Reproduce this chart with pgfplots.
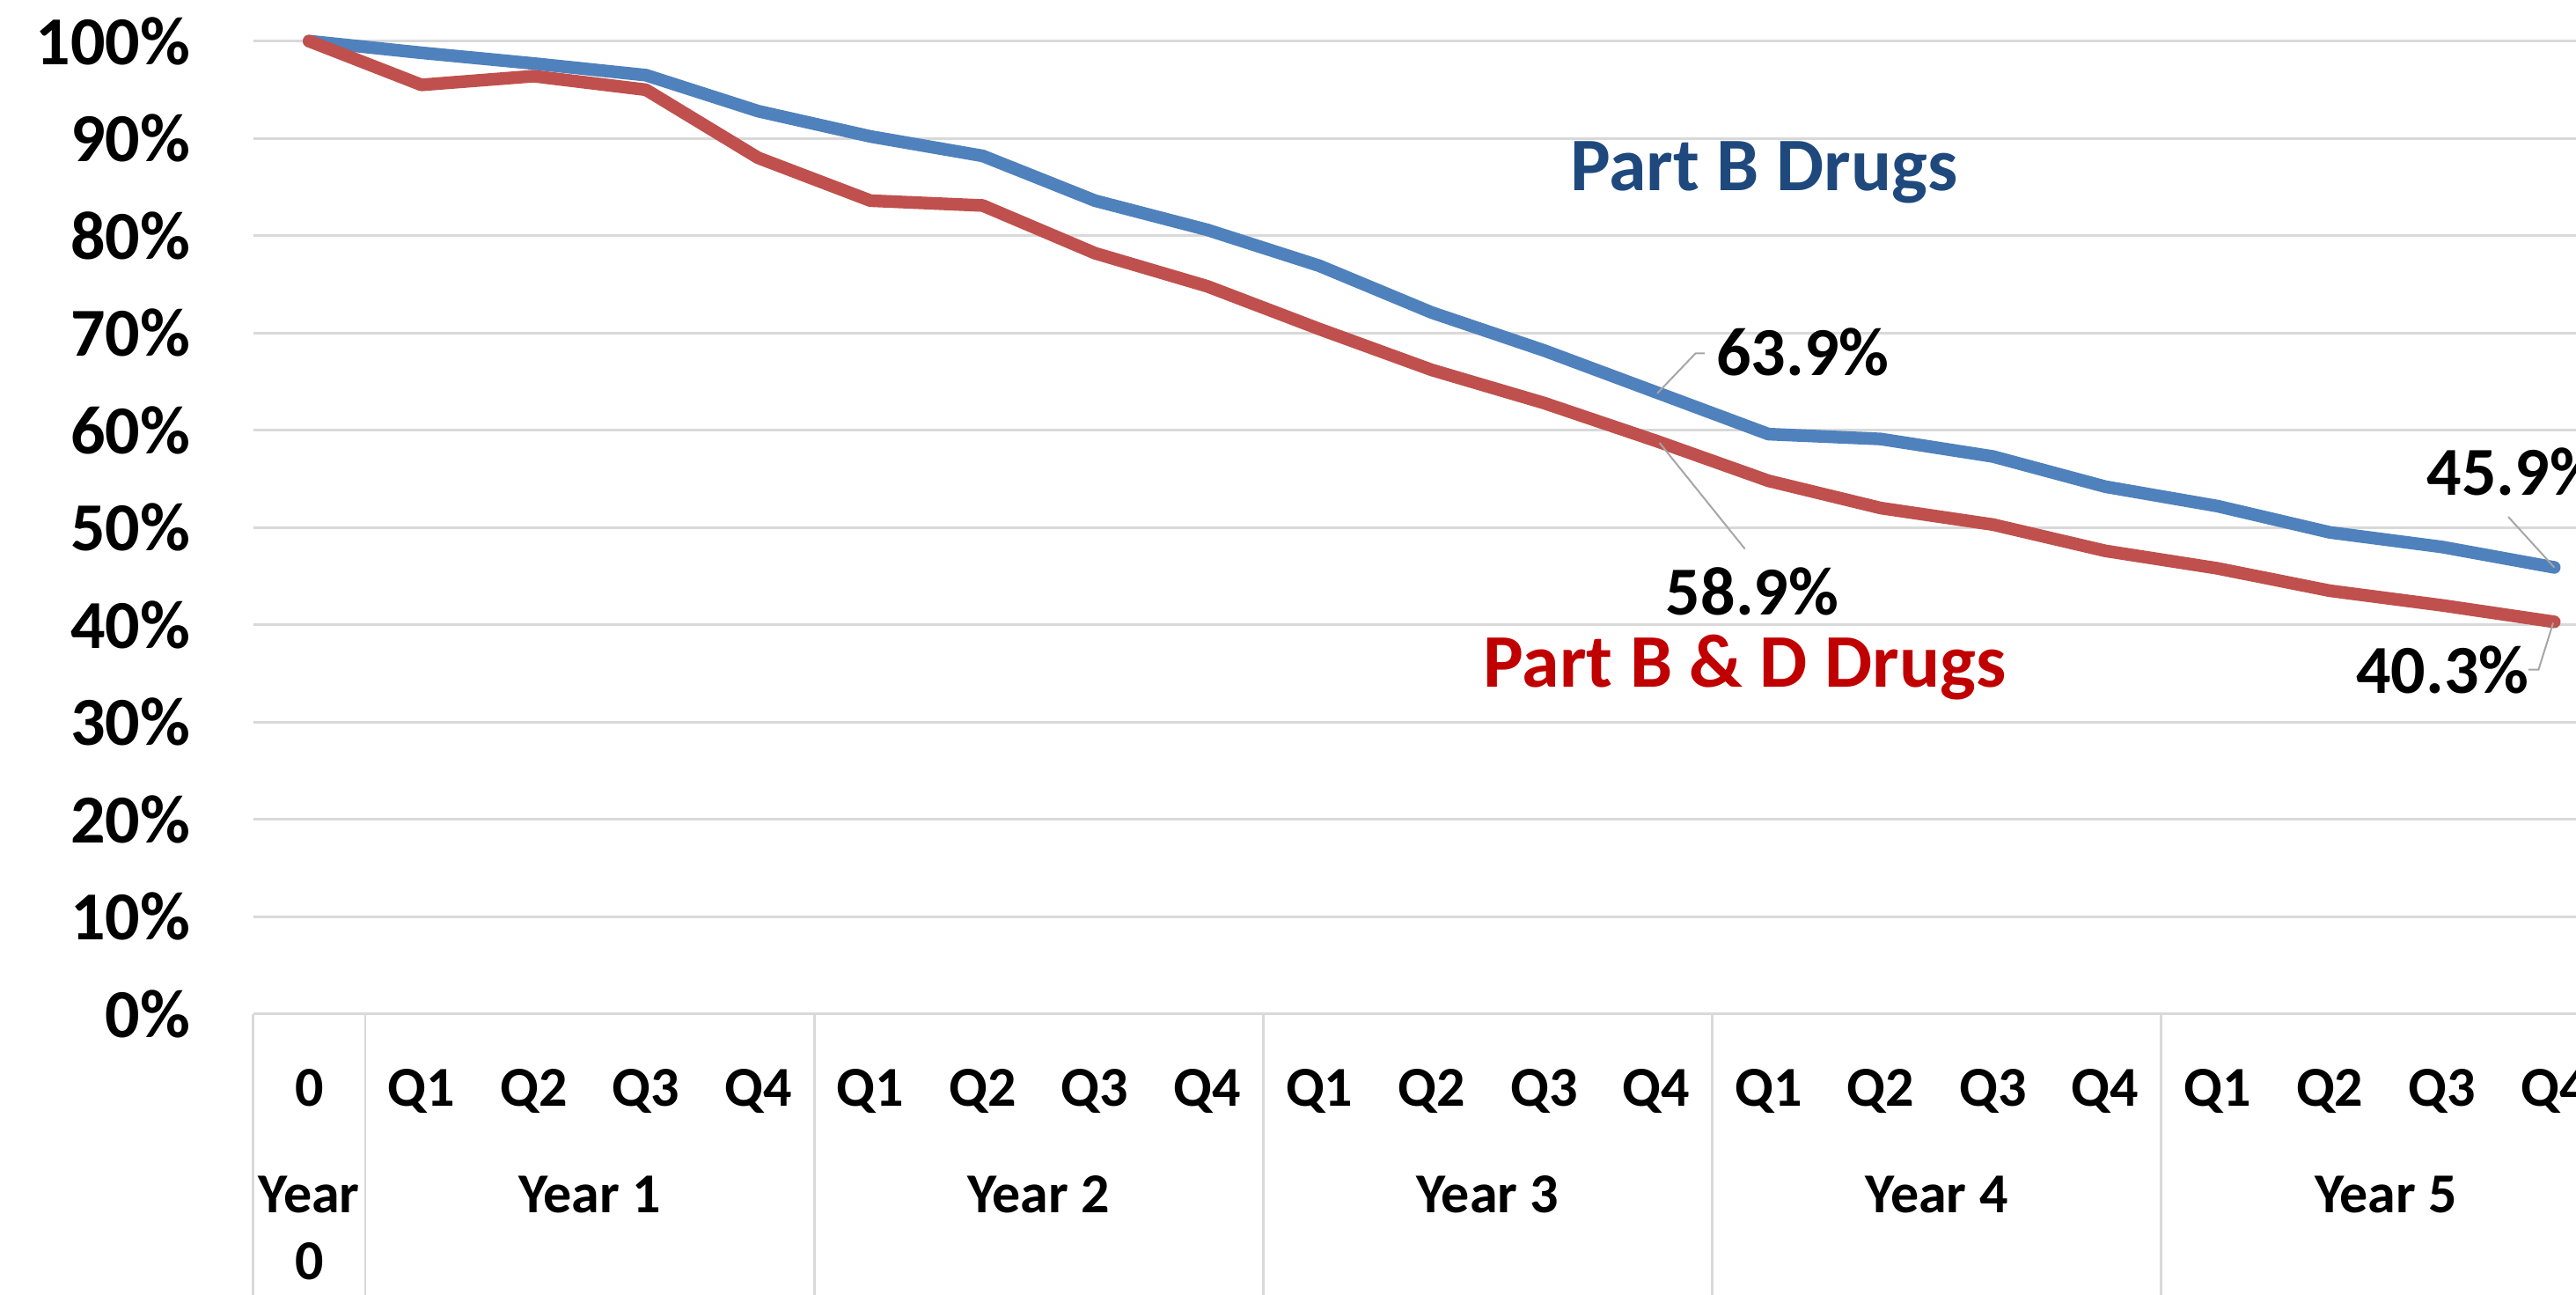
\documentclass[border=0pt]{standalone}
\usepackage{pgfplots}
\usepackage{pgfplotstable}
\pgfplotsset{compat=1.18}
\usepackage{fontspec}
\setmainfont{Carlito}
\definecolor{blueline}{HTML}{4F81BD}
\definecolor{redline}{HTML}{C0504D}
\definecolor{bluetext}{HTML}{1F497D}
\definecolor{redtext}{HTML}{C00000}
\definecolor{gridgray}{HTML}{D9D9D9}
\definecolor{leader}{HTML}{A6A6A6}

\pgfplotstableread{
x partb partbd
0 100 100
1 98.8 95.5
2 97.7 96.4
3 96.5 95.0
4 92.8 88.0
5 90.2 83.6
6 88.2 83.1
7 83.6 78.2
8 80.6 74.8
9 76.9 70.4
10 72.1 66.2
11 68.2 62.8
12 63.9 58.9
13 59.6 54.8
14 59.1 52.0
15 57.3 50.3
16 54.2 47.6
17 52.2 45.8
18 49.5 43.5
19 48.0 42.0
20 45.9 40.3
}\datatable

\begin{document}
\begin{tikzpicture}
\useasboundingbox (0,0) rectangle (731.75pt,367.5pt);
\clip (0,0) rectangle (731.75pt,367.5pt);
\begin{axis}[
  at={(71.875pt,79.575pt)}, anchor=south west,
  scale only axis, width=669.65pt, height=276.25pt,
  xmin=-0.5, xmax=20.5, ymin=0, ymax=100,
  clip=false,
  axis line style={draw=none},
  ymajorgrids, grid style={draw=gridgray, line width=0.7pt},
  major tick length=0pt,
  ytick={0,10,...,100},
  /pgf/number format/assume math mode=true,
  yticklabel={\pgfmathprintnumber{\tick}\%},
  yticklabel style={font=\fontsize{19.5}{20}\selectfont\bfseries, anchor=east, inner sep=0pt, xshift=-17.6pt},
  xtick={0,...,20},
  xticklabels={0,Q1,Q2,Q3,Q4,Q1,Q2,Q3,Q4,Q1,Q2,Q3,Q4,Q1,Q2,Q3,Q4,Q1,Q2,Q3,Q4},
  xticklabel style={font=\fontsize{16}{17}\selectfont\bfseries, anchor=base, inner sep=0pt, yshift=-26.25pt},
]
% category separators
\foreach \s in {-0.5,0.5,4.5,8.5,12.5,16.5,20.5}{
  \edef\tmp{\noexpand\draw[gridgray, line width=0.7pt] (axis cs:\s,0) -- ++(0pt,-90pt);}\tmp
}
\draw[gridgray, line width=0.7pt] (axis cs:-0.5,0) -- (axis cs:20.5,0);

\addplot[blueline, line width=3.6pt, line join=round, line cap=round] table[x=x,y=partb]{\datatable};
\addplot[redline, line width=3.6pt, line join=round, line cap=round] table[x=x,y=partbd]{\datatable};

% group labels
\begin{scope}[every node/.style={font=\fontsize{16}{17}\selectfont\bfseries, anchor=base, inner sep=0pt}]
\node at (axis cs:0,0) [yshift=-56.5pt] {Year};
\node at (axis cs:0,0) [yshift=-75.5pt] {0};
\node at (axis cs:2.5,0) [yshift=-56.5pt] {Year 1};
\node at (axis cs:6.5,0) [yshift=-56.5pt] {Year 2};
\node at (axis cs:10.5,0) [yshift=-56.5pt] {Year 3};
\node at (axis cs:14.5,0) [yshift=-56.5pt] {Year 4};
\node at (axis cs:18.5,0) [yshift=-56.5pt] {Year 5};
\end{scope}

% series names
\node[font=\fontsize{21.5}{22}\selectfont\bfseries, text=bluetext, anchor=base, inner sep=0pt] at (axis cs:12.96,84.6) {Part B Drugs};
\node[font=\fontsize{21.5}{22}\selectfont\bfseries, text=redtext, anchor=base, inner sep=0pt] at (axis cs:12.79,33.6) {Part B \& D Drugs};

% data labels with leader lines
\draw[leader, line width=0.5pt] (axis cs:12.01,63.8) -- (axis cs:12.35,67.9) -- (axis cs:12.43,67.9);
\draw[leader, line width=0.5pt] (axis cs:12.03,58.7) -- (axis cs:12.79,47.8);
\draw[leader, line width=0.5pt] (axis cs:19.59,51.1) -- (axis cs:20.0,45.9);
\draw[leader, line width=0.5pt] (axis cs:19.99,40.2) -- (axis cs:19.86,35.4) -- (axis cs:19.77,35.4);
\begin{scope}[every node/.style={font=\fontsize{19.5}{20}\selectfont\bfseries, anchor=base west, inner sep=0pt}]
\node at (axis cs:12.53,65.6) {63.9\%};
\node at (axis cs:12.08,41.0) {58.9\%};
\node at (axis cs:18.86,53.3) {45.9\%};
\node at (axis cs:18.23,33.0) {40.3\%};
\end{scope}
\end{axis}
\end{tikzpicture}
\end{document}
